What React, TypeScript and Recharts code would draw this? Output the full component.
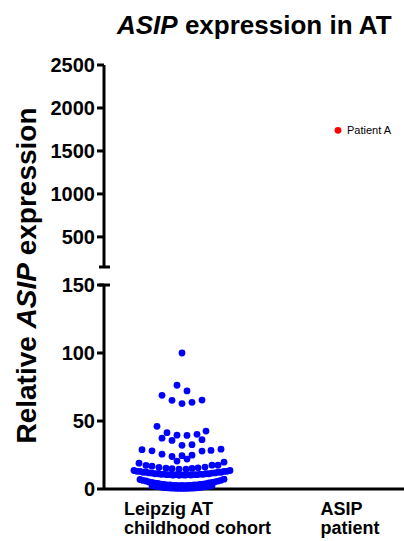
import { ScatterChart, Scatter, XAxis, YAxis, ReferenceLine } from "recharts";

const FONT = "'Liberation Sans', Arial, sans-serif";

const categories = ["Leipzig AT|childhood cohort", "ASIP|patient"];
const categoryX = [78, 234];

const upperTicks = [500, 1000, 1500, 2000, 2500];
const lowerTicks = [0, 50, 100, 150];

// Leipzig cohort: horizontal swarm offset and value
const sparseJitter = [0, -5, 5, -20, -10, 0, 10, 20, -25, -15, -5, 5, 15, 24, -20, -10, 20, 0, 10, -40, -30, -20, -10, 0, -5, 5, 10, 20, 29, 39, -43, 42];
const sparseValues = [100, 76.3, 72.1, 68.9, 65.2, 62.8, 63.7, 65.4, 46.1, 41.4, 39.6, 39.4, 40.2, 42.6, 37.4, 35.7, 36.3, 32.1, 32.6, 28.9, 28.1, 25.6, 23.9, 24.5, 20.5, 22.0, 24.9, 27.9, 28.4, 29.3, 19.0, 19.7];

const rowJitter = [-36, -30, -23, -16, -10, -3, 4, 10, 16, 23, 30, 36];
const rowValues = [17.3, 16.8, 15.8, 15.3, 14.9, 14.6, 14.6, 15.1, 15.6, 16.1, 17.5, 17.5];

const midJitter = [-48, -45, -42, -39, -36, -33, -30, -27, -24, -21, -18, -15, -12, -9, -6, -3, 0, 3, 6, 9, 12, 15, 18, 21, 24, 27, 30, 33, 36, 39, 42, 45, 48];
const midValues = [13.6, 13.0, 12.9, 12.3, 12.3, 11.8, 11.7, 11.2, 11.2, 10.8, 10.9, 10.5, 10.6, 10.2, 10.5, 10.1, 10.4, 10.2, 10.5, 10.3, 10.6, 10.5, 10.9, 10.8, 11.2, 11.2, 11.7, 11.8, 12.3, 12.3, 12.9, 13.0, 13.6];

const lowJitter = [-42, -39, -36, -33, -30, -27, -24, -21, -18, -15, -12, -9, -6, -3, 0, 3, 6, 9, 12, 15, 18, 21, 24, 27, 30, 33, 36, 39, 42];
const lowValues = [7.0, 6.3, 5.9, 5.2, 4.9, 4.3, 4.1, 3.5, 3.4, 3.0, 3.0, 2.6, 2.7, 2.4, 2.6, 2.5, 2.7, 2.6, 3.0, 3.1, 3.4, 3.6, 4.0, 4.4, 4.8, 5.3, 5.8, 6.4, 7.2];

const baseJitter = [-30, -27, -24, -21, -18, -15, -12, -9, -6, -3, 0, 3, 6, 9, 12, 15, 18, 21, 24, 27, 30];
const baseValues = [2.4, 2.0, 1.7, 1.4, 1.1, 0.9, 0.7, 0.6, 0.5, 0.4, 0.4, 0.4, 0.5, 0.6, 0.7, 0.9, 1.1, 1.4, 1.7, 2.0, 2.4];

const patientValue = 1740;
const patientName = "Patient A";

const cohort = [
  [sparseJitter, sparseValues],
  [rowJitter, rowValues],
  [midJitter, midValues],
  [lowJitter, lowValues],
  [baseJitter, baseValues],
].flatMap(([jit, vals]) => jit.map((j, i) => ({ x: categoryX[0] + j, y: vals[i] })));

const patient = [{ x: categoryX[1], y: patientValue }];

const X_DOMAIN: [number, number] = [0, 300];

const BlueDot = (props: any) => <circle cx={props.cx} cy={props.cy} r={3.4} fill="#0000ff" />;

const RedDot = (props: any) => (
  <g>
    <circle cx={props.cx} cy={props.cy} r={3.4} fill="#ff0000" />
    <text x={props.cx + 9} y={props.cy + 4} fontSize={11} fontFamily={FONT} fill="#000">
      {patientName}
    </text>
  </g>
);

const CategoryTick = (props: any) => {
  const { x, y, payload } = props;
  const idx = categoryX.indexOf(payload.value);
  const lines = (categories[idx] ?? "").split("|");
  const longest = Math.max(...lines.map((l) => l.length));
  const startX = x + 14 - (longest * 9) / 2;
  return (
    <g>
      {lines.map((l, i) => (
        <text key={i} x={startX} y={y + 18 + i * 19} fontSize={18} fontWeight="bold" fontFamily={FONT} fill="#000">
          {l}
        </text>
      ))}
    </g>
  );
};

const axisLine = { stroke: "#000", strokeWidth: 3 };
const tickStyle = { fill: "#000", fontSize: 20, fontWeight: "bold", fontFamily: FONT };

export default function App() {
  return (
    <div style={{ position: "absolute", left: 0, top: 0, width: 404, height: 541, background: "#fff", overflow: "hidden" }}>
      <svg width={404} height={541} style={{ position: "absolute", left: 0, top: 0 }}>
        <text x={117} y={34} fontSize={26} fontWeight="bold" fontFamily={FONT} fill="#000">
          <tspan fontStyle="italic">ASIP</tspan> expression in AT
        </text>
        <text
          transform="translate(36, 275.5) rotate(-90)"
          textAnchor="middle"
          fontSize={28}
          fontWeight="bold"
          fontFamily={FONT}
          fill="#000"
        >
          Relative <tspan fontStyle="italic">ASIP</tspan> expression
        </text>
      </svg>

      {/* upper segment of the broken axis */}
      <div style={{ position: "absolute", left: 0, top: 50 }}>
        <ScatterChart width={404} height={230} margin={{ top: 15, right: 0, bottom: 13, left: 0 }}>
          <XAxis type="number" dataKey="x" domain={X_DOMAIN} hide />
          <YAxis
            type="number"
            dataKey="y"
            domain={[150, 2500]}
            ticks={upperTicks}
            width={104}
            axisLine={axisLine}
            tickLine={axisLine}
            tickSize={7}
            tick={tickStyle}
            interval={0}
          />
          <ReferenceLine
            segment={[{ x: -5, y: 150 }, { x: 6, y: 150 }]}
            stroke="#000"
            strokeWidth={3}
            ifOverflow="visible"
          />
          <Scatter data={patient} shape={RedDot} isAnimationActive={false} />
        </ScatterChart>
      </div>

      {/* lower segment */}
      <div style={{ position: "absolute", left: 0, top: 270 }}>
        <ScatterChart width={404} height={271} margin={{ top: 15, right: 0, bottom: 0, left: 0 }}>
          <XAxis
            type="number"
            dataKey="x"
            domain={X_DOMAIN}
            ticks={categoryX}
            height={52}
            axisLine={axisLine}
            tickLine={false}
            tick={<CategoryTick />}
            interval={0}
          />
          <YAxis
            type="number"
            dataKey="y"
            domain={[0, 150]}
            ticks={lowerTicks}
            width={104}
            axisLine={axisLine}
            tickLine={axisLine}
            tickSize={7}
            tick={tickStyle}
            interval={0}
          />
          <ReferenceLine
            segment={[{ x: -5, y: 150 }, { x: 6, y: 150 }]}
            stroke="#000"
            strokeWidth={3}
            ifOverflow="visible"
          />
          <Scatter data={cohort} shape={BlueDot} isAnimationActive={false} />
        </ScatterChart>
      </div>
    </div>
  );
}
